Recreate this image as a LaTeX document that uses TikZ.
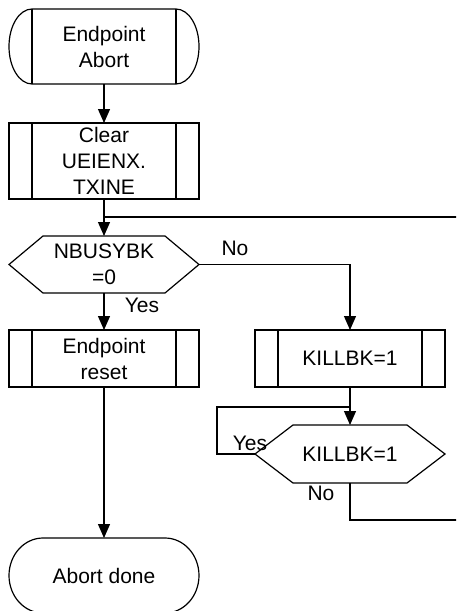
\documentclass[tikz,border=0pt]{standalone}
\usepackage{fontspec}
\setmainfont{Liberation Sans}
\usetikzlibrary{arrows.meta}
\begin{document}
\begin{tikzpicture}[x=0.5pt,y=-0.5pt,
 every node/.style={font=\fontsize{10.5}{13}\selectfont, align=center, inner sep=0pt, outer sep=0pt},
 line/.style={line width=0.6pt},
 arr/.style={line width=0.6pt, -{Triangle[width=6pt,length=7pt]}},
 proc/.style={draw, line width=0.6pt, minimum width=95pt, minimum height=#1,
   path picture={\draw[line width=0.6pt]
     ([xshift=11.5pt]path picture bounding box.north west) -- ([xshift=11.5pt]path picture bounding box.south west)
     ([xshift=-11.5pt]path picture bounding box.north east) -- ([xshift=-11.5pt]path picture bounding box.south east);}},
 blank/.style={minimum width=95pt, minimum height=#1}
]
\useasboundingbox (0,0) rectangle (456,611);
\clip (0,0) rectangle (456,611);

% nodes
\node[blank=37.5pt] (T1) at (104,46.5) {Endpoint\\Abort};
\node[proc=38pt] (B1) at (104,161) {Clear\\UEIENX.\\TXINE};
\node[blank=28.5pt] (D1) at (104,264.5) {NBUSYBK\\=0};
\node[proc=28.5pt] (B2) at (104,358.5) {Endpoint\\reset};
\node[proc=28.5pt] (B3) at (350,358.5) {KILLBK=1};
\node[blank=29pt] (D2) at (350,454) {KILLBK=1};
\node[blank=37.5pt] (T2) at (104,575.5) {Abort done};

% labels
\node (n1) at (235,248) {No};
\node (y1) at (142,305) {Yes};
\node (y2) at (250,443) {Yes};
\node (n2) at (321,493) {No};

% coordinates
\coordinate (j1) at (104,217);
\coordinate (r1) at (470,217);
\coordinate (j2) at (350,407);
\coordinate (lt) at (217,407);
\coordinate (r2) at (470,520);

% shapes
\draw[line] ([xshift=11.5pt]T1.north west) -- ([xshift=-11.5pt]T1.north east)
  arc[start angle=90, end angle=-90, x radius=11.5pt, y radius=18.75pt]
  -- ([xshift=11.5pt]T1.south west)
  arc[start angle=270, end angle=90, x radius=11.5pt, y radius=18.75pt] -- cycle;
\draw[line] ([xshift=11.5pt]T1.north west) -- ([xshift=11.5pt]T1.south west)
  ([xshift=-11.5pt]T1.north east) -- ([xshift=-11.5pt]T1.south east);

\draw[line] (D1.west) -- ([xshift=17pt]D1.north west) -- ([xshift=-17pt]D1.north east)
  -- (D1.east) -- ([xshift=-17pt]D1.south east) -- ([xshift=17pt]D1.south west) -- cycle;
\draw[line] (D2.west) -- ([xshift=19pt]D2.north west) -- ([xshift=-19pt]D2.north east)
  -- (D2.east) -- ([xshift=-19pt]D2.south east) -- ([xshift=19pt]D2.south west) -- cycle;

\draw[line] ([xshift=17pt]T2.north west) -- ([xshift=-17pt]T2.north east)
  arc[start angle=90, end angle=-90, x radius=17pt, y radius=18.75pt]
  -- ([xshift=17pt]T2.south west)
  arc[start angle=270, end angle=90, x radius=17pt, y radius=18.75pt] -- cycle;

% connectors
\draw[arr] (T1.south) -- (B1.north);
\draw[arr] (B1.south) -- (D1.north);
\draw[line] (r1) -- (j1);
\draw[arr] (D1.south) -- (B2.north);
\draw[arr] (D1.east) -| (B3.north);
\draw[arr] (B3.south) -- (D2.north);
\draw[line] (D2.west) -| (lt) -- (j2);
\draw[line] (D2.south) |- (r2);
\draw[arr] (B2.south) -- (T2.north);
\end{tikzpicture}
\end{document}
